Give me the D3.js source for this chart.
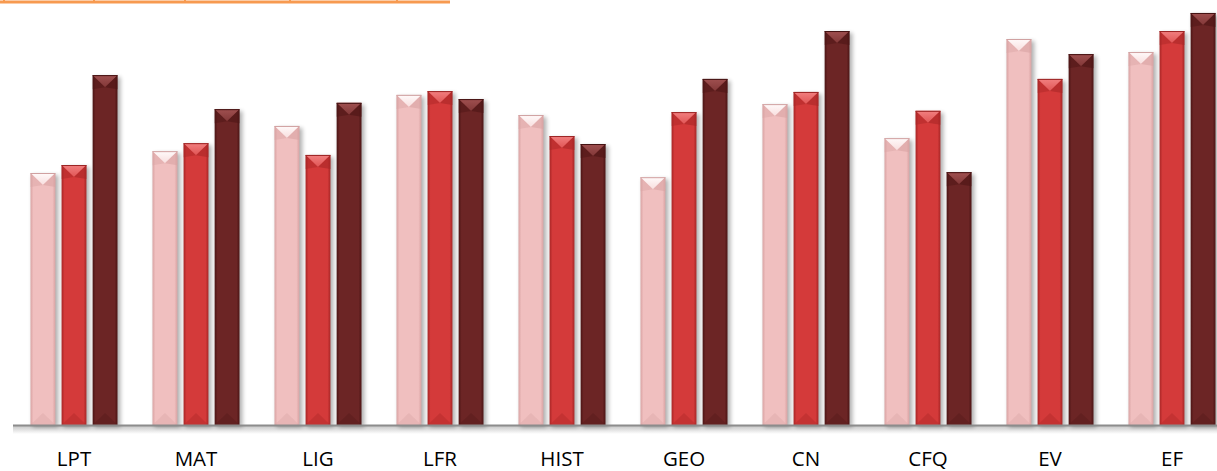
<!DOCTYPE html>
<html><head><meta charset="utf-8">
<script src="https://cdn.jsdelivr.net/npm/d3@7"></script>
<style>html,body{margin:0;padding:0;background:#fff;overflow:hidden}</style>
</head><body>
<svg id="c" width="1217" height="471"></svg>
<script>
const categories = ["LPT","MAT","LIG","LFR","HIST","GEO","CN","CFQ","EV","EF"];
const seriesNames = ["S1","S2","S3"];
const s1 = [60.0,65.2,71.2,78.6,73.8,59.0,76.4,68.3,91.9,88.8];
const s2 = [61.9,67.1,64.3,79.5,68.8,74.5,79.3,74.8,82.4,93.8];
const s3 = [83.3,75.2,76.7,77.6,66.9,82.4,93.8,60.2,88.3,98.1];
const seriesValues = [s1,s2,s3];
const orangeTicks = [4,94,185,290,397];

const svg = d3.select("#c");
const baseY = 425;
const y = d3.scaleLinear().domain([0,100]).range([baseY, 5]);
const x0 = d3.scaleBand().domain(categories).range([13,1233]).paddingInner(0.287).paddingOuter(0.1435);
const x1 = d3.scaleBand().domain(seriesNames).range([0,x0.bandwidth()]).paddingInner(0.2);

const pal = [
  {base:"#f0bfbf", edge:"#d9a3a3", top:"#fffafa", topMid:"#f8dede", bot:"#dba8a8", rim:"#d0a0a0"},
  {base:"#d43a3a", edge:"#a82626", top:"#f28080", topMid:"#e05555", bot:"#b22b2b", rim:"#9a2424"},
  {base:"#6c2525", edge:"#4c1515", top:"#a05050", topMid:"#823838", bot:"#571a1a", rim:"#441212"}
];
const defs = svg.append("defs");
const f = defs.append("filter").attr("id","sh").attr("x","-50%").attr("y","-10%").attr("width","200%").attr("height","130%");
f.append("feGaussianBlur").attr("stdDeviation",2.2);
pal.forEach((p,i)=>{
  const g = defs.append("linearGradient").attr("id","body"+i).attr("x1",0).attr("x2",1).attr("y1",0).attr("y2",0);
  g.append("stop").attr("offset","0%").attr("stop-color",p.edge);
  g.append("stop").attr("offset","12%").attr("stop-color",p.base);
  g.append("stop").attr("offset","88%").attr("stop-color",p.base);
  g.append("stop").attr("offset","100%").attr("stop-color",p.edge);
  const t = defs.append("linearGradient").attr("id","top"+i).attr("x1",0).attr("x2",0).attr("y1",0).attr("y2",1);
  t.append("stop").attr("offset","0%").attr("stop-color",p.top);
  t.append("stop").attr("offset","100%").attr("stop-color",p.topMid);
});
const bl = defs.append("linearGradient").attr("id","bl").attr("x1",0).attr("x2",0).attr("y1",0).attr("y2",1);
bl.append("stop").attr("offset","0%").attr("stop-color","#000").attr("stop-opacity",0.22);
bl.append("stop").attr("offset","100%").attr("stop-color","#000").attr("stop-opacity",0);

svg.append("line").attr("x1",0).attr("x2",450).attr("y1",2).attr("y2",2).attr("stroke","#f79a50").attr("stroke-width",3);
svg.selectAll(".ot").data(orangeTicks).enter().append("line")
  .attr("x1",d=>d).attr("x2",d=>d).attr("y1",0).attr("y2",3).attr("stroke","#f79a50").attr("stroke-width",2);

const bev = 12;
const groups = svg.selectAll(".g").data(categories).enter().append("g").attr("transform",d=>`translate(${x0(d)},0)`);
seriesValues.forEach((vals,si)=>{
  groups.each(function(cat,ci){
    const g = d3.select(this);
    const v = vals[ci];
    const bx = x1(seriesNames[si]), w = x1.bandwidth(), ty = y(v), h = baseY - ty;
    g.append("rect").attr("x",bx+2).attr("y",ty+2).attr("width",w+1).attr("height",h).attr("fill","#000").attr("opacity",0.3).attr("filter","url(#sh)");
    g.append("rect").attr("x",bx).attr("y",ty).attr("width",w).attr("height",h).attr("fill",`url(#body${si})`);
    g.append("polygon").attr("points",`${bx},${ty} ${bx+w},${ty} ${bx+w/2},${ty+bev}`).attr("fill",`url(#top${si})`);
    g.append("polygon").attr("points",`${bx},${ty} ${bx+w/2},${ty+bev} ${bx},${ty+bev+2}`).attr("fill",pal[si].edge).attr("opacity",0.45);
    g.append("polygon").attr("points",`${bx+w},${ty} ${bx+w/2},${ty+bev} ${bx+w},${ty+bev+2}`).attr("fill",pal[si].edge).attr("opacity",0.6);
    g.append("line").attr("x1",bx).attr("x2",bx+w).attr("y1",ty+0.5).attr("y2",ty+0.5).attr("stroke",pal[si].rim).attr("stroke-width",1);
    g.append("polygon").attr("points",`${bx},${baseY} ${bx+w},${baseY} ${bx+w/2},${baseY-bev}`).attr("fill",pal[si].bot).attr("opacity",0.45);
  });
});

svg.append("rect").attr("x",13).attr("y",baseY+1).attr("width",1204).attr("height",8).attr("fill","url(#bl)");
const xAxis = d3.axisBottom(x0).tickSize(0).tickPadding(0);
const ax = svg.append("g").attr("transform",`translate(0,${baseY})`).call(xAxis);
ax.select(".domain").remove();
ax.selectAll("text").attr("y",41).attr("dy",0).attr("font-family","'Open Sans', sans-serif").attr("font-weight",400).attr("font-size",20.5).attr("fill","#000");
svg.append("line").attr("x1",13).attr("x2",1217).attr("y1",baseY+0.5).attr("y2",baseY+0.5).attr("stroke","#8c8c8c").attr("stroke-width",2);
</script>
</body></html>
